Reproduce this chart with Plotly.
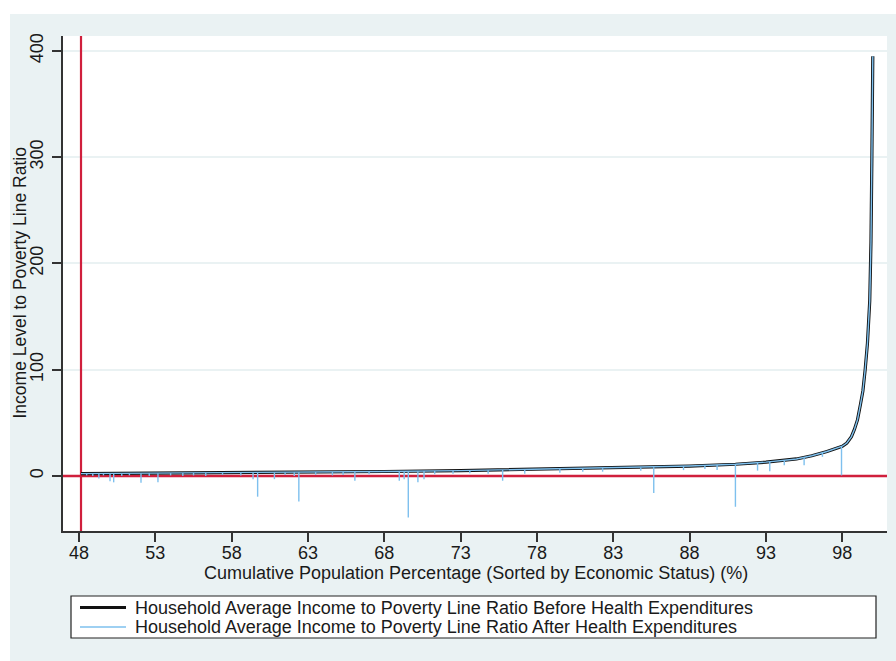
import plotly.graph_objects as go

# Income-to-poverty-line ratio, households sorted by economic status
pop_pct = [48.13, 53, 58, 63, 68, 73, 78, 83, 88, 91, 93, 95, 96, 97, 97.5,
           98, 98.3, 98.6, 98.8, 99.0, 99.2, 99.35, 99.5, 99.65, 99.8, 99.88,
           99.94, 99.98, 100]
ratio_before = [2.2, 2.6, 3.0, 3.5, 4.2, 5.0, 6.2, 7.5, 9.3, 11, 13, 16, 19, 23,
                25.5, 28, 31, 37, 44, 53, 68, 80, 100, 125, 165, 220, 300, 360, 395]

# Households whose ratio drops after health expenditures
drop_pct = [48.5, 48.9, 49.3, 49.6, 50.03, 50.27, 50.8, 51.3, 52.06, 52.6, 53.17,
            54.0, 54.8, 55.5, 56.3, 57.4, 58.6, 59.4, 59.7, 60.8, 61.5, 62.1, 62.4,
            63.5, 64.6, 65.3, 66.07, 67.0, 68.98, 69.3, 69.57, 70.2, 70.6, 71.3,
            72.5, 73.6, 74.8, 75.75, 77.2, 79.5, 81.0, 82.3, 84.8, 85.65, 87.6,
            89.0, 89.8, 91.0, 92.45, 93.25, 94.2, 95.5, 96.7, 97.95]
drop_before = [2.2, 2.2, 2.3, 2.3, 2.3, 2.3, 2.4, 2.4, 2.5, 2.5, 2.6,
               2.7, 2.7, 2.8, 2.9, 3.0, 3.1, 3.1, 3.2, 3.3, 3.3, 3.4, 3.4,
               3.6, 3.7, 3.8, 3.9, 4.0, 4.3, 4.3, 4.4, 4.5, 4.6, 4.7,
               4.9, 5.2, 5.4, 5.6, 5.9, 6.5, 6.9, 7.3, 8.0, 8.3, 9.1,
               9.8, 10.3, 11.0, 12.5, 13.3, 14.5, 17.5, 22, 28]
drop_after = [0.5, 0.0, -2.5, 0.5, -5, -6, 0.0, 0.5, -6.5, 0.0, -6,
              0.5, 0.0, 0.5, 0.0, 1.0, 0.5, -3, -19.5, -3, 1.0, 0.0, -24,
              1.0, 0.5, 1.0, -4.5, 1.5, -4.5, -3, -39, -6, -3, 1.5,
              2.0, 2.5, 2.0, -4.5, 2.0, 3.0, 4.0, 4.0, 5.0, -16, 5.5,
              6.5, 5.5, -29, 5.0, 4.5, 10, 10, 18, 0.5]

poverty_pct = 48.13
x_ticks = [48, 53, 58, 63, 68, 73, 78, 83, 88, 93, 98]
y_ticks = [0, 100, 200, 300, 400]
x_range = [46.95, 100.93]
y_range = [-51.8, 414]

label_before = "Household Average Income to Poverty Line Ratio Before Health Expenditures"
label_after = "Household Average Income to Poverty Line Ratio After Health Expenditures"
x_title = "Cumulative Population Percentage (Sorted by Economic Status) (%)"
y_title = "Income Level to Poverty Line Ratio"

BG = "#EAF2F3"
RED = "#D01F3C"
BLUE = "#7EC0EE"
INK = "#1a1a1a"
FONT = "Liberation Sans, Arial, sans-serif"
FS = 18

# "After" series: the sorted curve plus a vertical drop for each affected household
after_x = list(pop_pct)
after_y = list(ratio_before)
for px, top, low in zip(drop_pct, drop_before, drop_after):
    after_x += [None, px, px]
    after_y += [None, top, low]

fig = go.Figure()

# reference lines: poverty position and zero ratio
fig.add_trace(go.Scatter(x=[poverty_pct, poverty_pct], y=y_range, mode="lines",
                         line=dict(color=RED, width=2.2), showlegend=False,
                         hoverinfo="skip"))
fig.add_trace(go.Scatter(x=x_range, y=[0, 0], mode="lines",
                         line=dict(color=RED, width=2.4), showlegend=False,
                         hoverinfo="skip"))

fig.add_trace(go.Scatter(x=pop_pct, y=ratio_before, mode="lines",
                         name=label_before, showlegend=False,
                         line=dict(color="#111111", width=3.2)))
fig.add_trace(go.Scatter(x=after_x, y=after_y, mode="lines", connectgaps=False,
                         name=label_after, showlegend=False,
                         line=dict(color=BLUE, width=1.4)))

# plot-area geometry in pixels (used for paper-coordinate shapes)
W, H = 896, 661
L, R, T, B = 63, 887, 36, 531
pw, ph = R - L, B - T


def px_x(p):
    return (p - L) / pw


def px_y(p):
    return (B - p) / ph


shapes = [
    # white strips around the graph region
    dict(type="rect", xref="paper", yref="paper", x0=px_x(-20), x1=px_x(10),
         y0=px_y(H + 20), y1=px_y(-20), fillcolor="white", line_width=0,
         layer="below"),
    dict(type="rect", xref="paper", yref="paper", x0=px_x(-20), x1=px_x(W + 20),
         y0=px_y(14), y1=px_y(-20), fillcolor="white", line_width=0,
         layer="below"),
    # legend frame
    dict(type="rect", xref="paper", yref="paper", x0=px_x(71), x1=px_x(876),
         y0=px_y(638), y1=px_y(596), fillcolor="white",
         line=dict(color="#222222", width=1.2), layer="below"),
    # legend keys
    dict(type="line", xref="paper", yref="paper", x0=px_x(80), x1=px_x(126),
         y0=px_y(607.5), y1=px_y(607.5), line=dict(color="#111111", width=3.2)),
    dict(type="line", xref="paper", yref="paper", x0=px_x(80), x1=px_x(126),
         y0=px_y(627), y1=px_y(627), line=dict(color=BLUE, width=1.4)),
]

annotations = [
    dict(text=label_before, xref="paper", yref="paper", x=px_x(133), y=px_y(607.5),
         xanchor="left", yanchor="middle", showarrow=False,
         font=dict(family=FONT, size=FS, color=INK)),
    dict(text=label_after, xref="paper", yref="paper", x=px_x(133), y=px_y(627),
         xanchor="left", yanchor="middle", showarrow=False,
         font=dict(family=FONT, size=FS, color=INK)),
    dict(text=x_title, xref="paper", yref="paper", x=px_x(475.5), y=px_y(573),
         xanchor="center", yanchor="middle", showarrow=False,
         font=dict(family=FONT, size=FS, color=INK)),
    dict(text=y_title, xref="paper", yref="paper", x=px_x(19.5), y=px_y(283),
         xanchor="center", yanchor="middle", showarrow=False, textangle=-90,
         font=dict(family=FONT, size=17.5, color=INK)),
]

fig.update_layout(
    width=W, height=H,
    margin=dict(l=L, r=W - R, t=T, b=H - B),
    paper_bgcolor=BG, plot_bgcolor="white",
    font=dict(family=FONT, size=FS, color=INK),
    shapes=shapes, annotations=annotations,
    showlegend=False,
    xaxis=dict(range=x_range, tickvals=x_ticks, showgrid=False, zeroline=False,
               showline=True, linecolor="#333333", linewidth=1.5,
               ticks="outside", ticklen=9, tickwidth=1.5, tickcolor="#333333",
               tickfont=dict(size=FS), ticklabelstandoff=-4),
    yaxis=dict(range=y_range, tickvals=y_ticks, showgrid=True, gridcolor=BG,
               gridwidth=1.5, zeroline=False,
               showline=True, linecolor="#333333", linewidth=1.5,
               ticks="outside", ticklen=9, tickwidth=1.5, tickcolor="#333333",
               tickangle=-90, tickfont=dict(size=FS), ticklabelstandoff=2),
)

fig.write_html("out.html")
